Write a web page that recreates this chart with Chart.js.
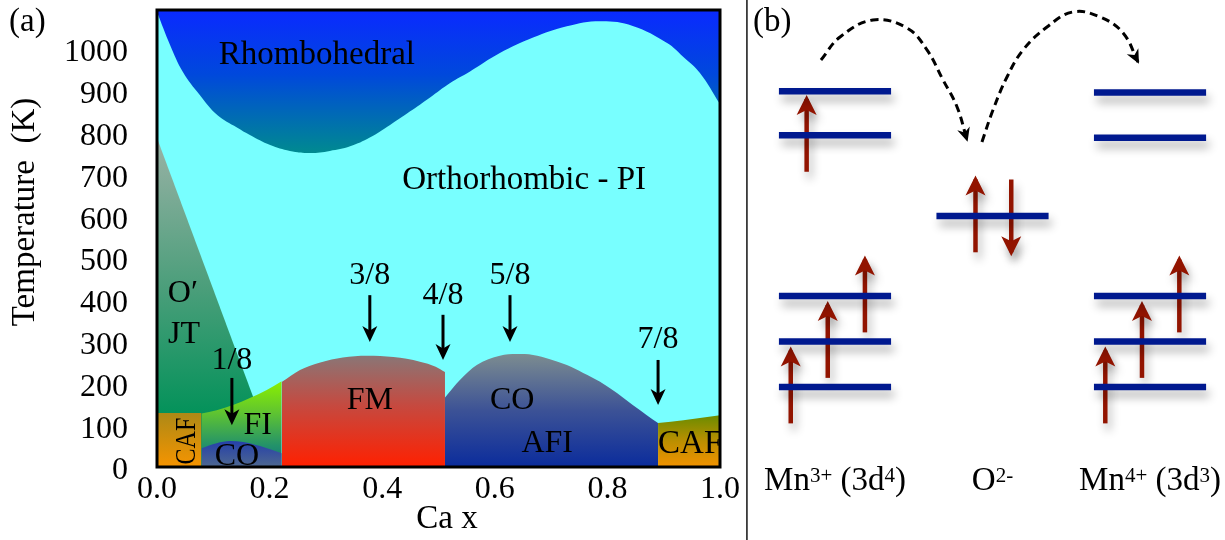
<!DOCTYPE html>
<html>
<head>
<meta charset="utf-8">
<script src="https://cdn.jsdelivr.net/npm/chart.js@4.4.0/dist/chart.umd.min.js"></script>
<style>
  html, body { margin: 0; padding: 0; background: #fff; }
  #wrap { position: relative; width: 1225px; height: 540px; overflow: hidden; background: #fff; }
  #phase { position: absolute; left: 0; top: 0; }
  #levels { position: absolute; left: 746px; top: 0; }
</style>
</head>
<body>
<div id="wrap">
  <canvas id="phase" width="746" height="540"></canvas>
  <canvas id="levels" width="479" height="540"></canvas>
</div>
<script>
const SERIF = "'Liberation Serif', 'Times New Roman', serif";

// ---------- (a) phase diagram: Ca fraction x vs temperature (K) ----------
const caTicks = [0, 0.2, 0.4, 0.6, 0.8, 1.0];
const tempTicks = [0, 100, 200, 300, 400, 500, 600, 700, 800, 900, 1000];

// rhombohedral / orthorhombic boundary
const rhomboX = [0, 0.023, 0.046, 0.076, 0.107, 0.142, 0.165, 0.201, 0.236, 0.272, 0.307, 0.343, 0.378,
                 0.414, 0.449, 0.485, 0.520, 0.556, 0.609, 0.668, 0.728, 0.787, 0.845, 0.906, 0.934, 0.964, 1.0];
const rhomboT = [1088, 1010, 945, 890, 842, 812, 794, 770, 756, 751, 756, 767, 788,
                 818, 850, 884, 918, 946, 990, 1027, 1054, 1066, 1055, 1014, 982, 943, 868];

// O' (Jahn-Teller) boundary
const jtX = [0, 0.171];
const jtT = [787, 167];

// canted AF, low doping side
const cafLeftX = [0, 0.079];
const cafLeftT = [129, 129];

// ferromagnetic insulator
const fiX = [0.079, 0.106, 0.135, 0.165, 0.195, 0.2215];
const fiT = [128, 136, 148, 165, 184, 205];

// charge order inside FI
const coLowX = [0.079, 0.106, 0.13, 0.153, 0.183, 0.2215];
const coLowT = [45, 57, 62, 60, 50, 33];

// ferromagnetic metal
const fmX = [0.2215, 0.254, 0.29, 0.33, 0.373, 0.42, 0.467, 0.495, 0.5115];
const fmT = [203, 232, 250, 262, 266, 263, 252, 240, 227];

// charge ordered antiferromagnetic insulator
const coAfiX = [0.5115, 0.538, 0.568, 0.609, 0.639, 0.668, 0.698, 0.728, 0.757, 0.787, 0.817, 0.845, 0.870, 0.890];
const coAfiT = [166, 208, 244, 266, 270, 268, 258, 244, 225, 204, 177, 148, 124, 105];

// canted AF, high doping side
const cafRightX = [0.89, 0.935, 1.0];
const cafRightT = [105, 112, 124];

// commensurate doping markers
const fracLabels = ['1/8', '3/8', '4/8', '5/8', '7/8'];
const fracX      = [0.133, 0.378, 0.508, 0.627, 0.89];
const fracTail   = [213, 411, 364, 411, 256];
const fracTip    = [100, 299, 256, 299, 148];
const fracTextT  = [261, 464, 416, 464, 311];

const regionLabels = [
  { text: 'Rhombohedral',      x: 0.284, t: 990, size: 33 },
  { text: 'Orthorhombic - PI', x: 0.652, t: 691, size: 33 },
  { text: 'O\u2032',           x: 0.046, t: 419, size: 32 },
  { text: 'JT',                x: 0.048, t: 323, size: 32 },
  { text: 'FI',                x: 0.179, t: 105, size: 32 },
  { text: 'CO',                x: 0.142, t: 31,  size: 32 },
  { text: 'CAF',               x: 0.05,  t: 62,  size: 30, rot: -Math.PI / 2, sx: 0.8 },
  { text: 'FM',                x: 0.378, t: 163, size: 32 },
  { text: 'CO',                x: 0.631, t: 165, size: 32 },
  { text: 'AFI',               x: 0.693, t: 60,  size: 32 },
  { text: 'CAF',               x: 0.89,  t: 60,  size: 33, align: 'left' }
];

const ORTHO_CYAN = '#78ffff';

function pts(xs, ys) { return xs.map((x, i) => ({ x, y: ys[i] })); }

function vGrad(stops, topT, botT) {
  return (c) => {
    const chart = c.chart;
    if (!chart.chartArea) return stops[0][1];
    const y = chart.scales.y;
    const g = chart.ctx.createLinearGradient(0, y.getPixelForValue(topT), 0, y.getPixelForValue(botT));
    stops.forEach(([o, col]) => g.addColorStop(o, col));
    return g;
  };
}

function region(label, xs, ys, fill, order, background, smooth) {
  const ds = {
    label, data: pts(xs, ys), fill, order,
    backgroundColor: background,
    borderColor: 'rgba(0,0,0,0)', borderWidth: 0,
    pointRadius: 0
  };
  if (smooth) ds.tension = 0.4; else ds.cubicInterpolationMode = 'monotone';
  return ds;
}

function downArrow(ctx, x, yTail, yTip) {
  const L = 16, W = 15;
  ctx.lineWidth = 3;
  ctx.beginPath();
  ctx.moveTo(x, yTail);
  ctx.lineTo(x, yTip - L * 0.6);
  ctx.stroke();
  ctx.beginPath();
  ctx.moveTo(x, yTip);
  ctx.lineTo(x - W / 2, yTip - L);
  ctx.lineTo(x, yTip - L * 0.72);
  ctx.lineTo(x + W / 2, yTip - L);
  ctx.closePath();
  ctx.fill();
}

const phaseDecor = {
  id: 'phaseDecor',
  beforeDatasetsDraw(chart) {
    const { ctx, chartArea: a } = chart;
    ctx.save();
    ctx.fillStyle = ORTHO_CYAN;
    ctx.fillRect(a.left, a.top, a.width, a.height);
    ctx.restore();
  },
  afterDatasetsDraw(chart) {
    const { ctx, chartArea: a, scales: { x, y } } = chart;
    ctx.save();
    ctx.beginPath();
    ctx.rect(a.left, a.top, a.width, a.height);
    ctx.clip();
    ctx.fillStyle = '#000';
    ctx.strokeStyle = '#000';
    regionLabels.forEach(l => {
      ctx.save();
      ctx.translate(x.getPixelForValue(l.x), y.getPixelForValue(l.t));
      if (l.rot) ctx.rotate(l.rot);
      if (l.sx) ctx.scale(l.sx, 1);
      ctx.font = l.size + 'px ' + SERIF;
      ctx.textAlign = l.align || 'center';
      ctx.textBaseline = 'alphabetic';
      ctx.fillText(l.text, 0, 0.33 * l.size);
      ctx.restore();
    });
    ctx.font = '32px ' + SERIF;
    ctx.textAlign = 'center';
    fracLabels.forEach((lab, i) => {
      const px = x.getPixelForValue(fracX[i]);
      ctx.fillText(lab, px, y.getPixelForValue(fracTextT[i]) + 11);
      downArrow(ctx, px, y.getPixelForValue(fracTail[i]), y.getPixelForValue(fracTip[i]));
    });
    ctx.restore();

    ctx.save();
    ctx.lineWidth = 3;
    ctx.strokeStyle = '#000';
    ctx.strokeRect(a.left, a.top, a.width, a.height);
    ctx.restore();
  },
  afterDraw(chart) {
    const { ctx } = chart;
    ctx.save();
    ctx.fillStyle = '#000';
    ctx.textBaseline = 'alphabetic';
    ctx.font = '33px ' + SERIF;
    ctx.textAlign = 'left';
    ctx.fillText('(a)', 9, 31);
    ctx.textAlign = 'center';
    ctx.fillText('Ca x', 447, 528);
    ctx.translate(34, 212);
    ctx.rotate(-Math.PI / 2);
    ctx.fillText('Temperature  (K)', 0, 0);
    ctx.restore();
  }
};

new Chart(document.getElementById('phase'), {
  type: 'line',
  data: {
    datasets: [
      region('Rhombohedral', rhomboX, rhomboT, 'end', 5,
        vGrad([[0, '#0a2aff'], [0.45, '#0048dc'], [1, '#008a90']], 1093, 751), true),
      region("O' JT", jtX, jtT, 'origin', 10,
        vGrad([[0, '#9ab2a6'], [0.55, '#4a9e7a'], [1, '#04925a']], 787, 129)),
      region('CAF', cafLeftX, cafLeftT, 'origin', 8,
        vGrad([[0, '#ad8916'], [1, '#f69400']], 129, 0)),
      region('FI', fiX, fiT, 'origin', 9,
        vGrad([[0, '#8af000'], [0.35, '#62c62e'], [0.75, '#23926a'], [1, '#0e6e84']], 205, 0)),
      region('CO', coLowX, coLowT, 'origin', 7,
        vGrad([[0, '#2540aa'], [1, '#4e6890']], 62, 0)),
      region('FM', fmX, fmT, 'origin', 6,
        vGrad([[0, '#8a7676'], [0.45, '#c6493f'], [1, '#ff2000']], 266, 0)),
      region('CO AFI', coAfiX, coAfiT, 'origin', 6,
        vGrad([[0, '#7c8c90'], [0.5, '#3c5296'], [1, '#0b2c9c']], 270, 0)),
      region('CAF', cafRightX, cafRightT, 'origin', 6,
        vGrad([[0, '#6a8c00'], [0.5, '#bb8f00'], [1, '#f29200']], 124, 0))
    ]
  },
  options: {
    responsive: false,
    animation: false,
    events: [],
    layout: { padding: { left: 0, top: 10, right: 26, bottom: 0 } },
    plugins: { legend: { display: false }, tooltip: { enabled: false } },
    scales: {
      x: {
        type: 'linear', min: 0, max: 1,
        grid: { display: false, drawTicks: false },
        border: { display: false },
        afterBuildTicks: s => { s.ticks = caTicks.map(v => ({ value: v })); },
        afterFit: s => { s.height = 73; s.paddingLeft = 0; s.paddingRight = 0; },
        ticks: {
          callback: v => Number(v).toFixed(1),
          font: { family: SERIF, size: 32 }, color: '#000',
          padding: 3, maxRotation: 0, autoSkip: false
        }
      },
      y: {
        type: 'linear', min: 0, max: 1093,
        grid: { display: false, drawTicks: false },
        border: { display: false },
        afterBuildTicks: s => { s.ticks = tempTicks.map(v => ({ value: v })); },
        afterFit: s => { s.width = 157; s.paddingTop = 0; s.paddingBottom = 0; },
        ticks: {
          callback: v => String(v),
          font: { family: SERIF, size: 32 }, color: '#000',
          padding: 29, labelOffset: 4, autoSkip: false
        }
      }
    }
  },
  plugins: [phaseDecor]
});

// ---------- (b) Mn3+ - O2- - Mn4+ level scheme (double exchange) ----------
const sitePos = [0, 1, 2];                       // Mn3+, O2-, Mn4+
const mn3Levels = [0, 1, 2, 5.53, 6.5];          // t2g x3, eg x2
const oLevels = [3.76];                          // O 2p
const mn4Levels = [0, 1, 2, 5.48, 6.47];

const mn3SpinDx = [-0.281, -0.046, 0.19, -0.18];
const mn3SpinLevel = [0, 1, 2, 5.53];
const mn3SpinDir = [1, 1, 1, 1];
const oSpinDx = [-0.108, 0.119];
const oSpinLevel = [3.76, 3.76];
const oSpinDir = [1, -1];
const mn4SpinDx = [-0.284, -0.051, 0.186];
const mn4SpinLevel = [0, 1, 2];
const mn4SpinDir = [1, 1, 1];

// electron hopping paths Mn3+ -> O -> Mn4+
const hop1X = [-0.089, 0.032, 0.241, 0.457, 0.584, 0.686, 0.775, 0.838];
const hop1E = [7.187, 7.692, 8.066, 7.890, 7.407, 6.747, 6.154, 5.429];
const hop2X = [0.933, 1.003, 1.092, 1.194, 1.346, 1.511, 1.683, 1.829, 1.924];
const hop2E = [5.385, 6.088, 6.813, 7.407, 7.912, 8.242, 8.132, 7.780, 7.143];

const LEVEL_HALF = 0.356;
const SPIN_HALF = 0.8;
const LEVEL_BLUE = '#00198f';
const SPIN_RED = '#921400';

const levelSets = [];
[[0, mn3Levels], [1, oLevels], [2, mn4Levels]].forEach(([s, lv]) => {
  lv.forEach(e => levelSets.push({
    data: [{ x: sitePos[s] - LEVEL_HALF, y: e }, { x: sitePos[s] + LEVEL_HALF, y: e }],
    borderColor: LEVEL_BLUE, borderWidth: 6.5, borderCapStyle: 'butt',
    pointRadius: 0, order: 1, shadow: true, tension: 0
  }));
});

const spinSets = [];
[[0, mn3SpinDx, mn3SpinLevel, mn3SpinDir], [1, oSpinDx, oSpinLevel, oSpinDir], [2, mn4SpinDx, mn4SpinLevel, mn4SpinDir]]
  .forEach(([s, dxs, lv, dirs]) => {
    dxs.forEach((dx, i) => spinSets.push({
      data: [{ x: sitePos[s] + dx, y: lv[i] - dirs[i] * SPIN_HALF }, { x: sitePos[s] + dx, y: lv[i] + dirs[i] * SPIN_HALF }],
      borderColor: SPIN_RED, borderWidth: 4.5, borderCapStyle: 'butt',
      pointRadius: 0, order: 2, shadow: true, head: 'spin', tension: 0
    }));
  });

const hopSets = [[hop1X, hop1E], [hop2X, hop2E]].map(([xs, es]) => ({
  data: pts(xs, es),
  borderColor: '#000', borderWidth: 3, borderDash: [8, 5],
  pointRadius: 0, order: 3, tension: 0.4, head: 'hop'
}));

function stealth(ctx, tip, ang, L, W, notch) {
  ctx.save();
  ctx.translate(tip.x, tip.y);
  ctx.rotate(ang);
  ctx.beginPath();
  ctx.moveTo(0, 0);
  ctx.lineTo(-L, -W / 2);
  ctx.lineTo(-L * (1 - notch), 0);
  ctx.lineTo(-L, W / 2);
  ctx.closePath();
  ctx.fill();
  ctx.restore();
}

const levelDecor = {
  id: 'levelDecor',
  beforeDatasetDraw(chart, args) {
    const ds = chart.data.datasets[args.index];
    const ctx = chart.ctx;
    ctx.save();
    if (ds.shadow) {
      ctx.shadowColor = 'rgba(0,0,0,0.30)';
      ctx.shadowBlur = 10;
      ctx.shadowOffsetX = 3;
      ctx.shadowOffsetY = 7;
    }
  },
  afterDatasetDraw(chart, args) {
    const ds = chart.data.datasets[args.index];
    const ctx = chart.ctx;
    const p = args.meta.data;
    if (ds.head && p.length > 1) {
      const a = p[p.length - 2], b = p[p.length - 1];
      const ang = Math.atan2(b.y - a.y, b.x - a.x);
      ctx.fillStyle = ds.borderColor;
      if (ds.head === 'spin') {
        const tip = { x: b.x + 4 * Math.cos(ang), y: b.y + 4 * Math.sin(ang) };
        stealth(ctx, tip, ang, 20, 20, 0.25);
      } else {
        const tip = { x: b.x + 2 * Math.cos(ang), y: b.y + 2 * Math.sin(ang) };
        stealth(ctx, tip, ang, 14, 13, 0.3);
      }
    }
    ctx.restore();
  },
  afterDraw(chart) {
    const { ctx, scales: { x, y } } = chart;
    ctx.save();
    ctx.fillStyle = '#3a3a3a';
    ctx.fillRect(0, 0, 1.8, chart.height);
    ctx.fillStyle = '#000';
    ctx.textBaseline = 'alphabetic';
    ctx.font = '33px ' + SERIF;
    ctx.textAlign = 'left';
    ctx.fillText('(b)', 7, 31);

    const ionLabels = [
      [{ t: 'Mn' }, { t: '3+', sup: true }, { t: ' (3d' }, { t: '4', sup: true }, { t: ')' }],
      [{ t: 'O' }, { t: '2-', sup: true }],
      [{ t: 'Mn' }, { t: '4+', sup: true }, { t: ' (3d' }, { t: '3', sup: true }, { t: ')' }]
    ];
    const base = y.getPixelForValue(-2.26);
    ionLabels.forEach((parts, s) => {
      let w = 0;
      parts.forEach(q => {
        ctx.font = (q.sup ? 21 : 33) + 'px ' + SERIF;
        q.w = ctx.measureText(q.t).width;
        w += q.w;
      });
      let cx = x.getPixelForValue(sitePos[s]) - w / 2;
      parts.forEach(q => {
        ctx.font = (q.sup ? 21 : 33) + 'px ' + SERIF;
        ctx.fillText(q.t, cx, q.sup ? base - 8 : base);
        cx += q.w;
      });
    });
    ctx.restore();
  }
};

new Chart(document.getElementById('levels'), {
  type: 'line',
  data: { datasets: [...levelSets, ...spinSets, ...hopSets] },
  options: {
    responsive: false,
    animation: false,
    events: [],
    layout: { padding: 0 },
    plugins: { legend: { display: false }, tooltip: { enabled: false } },
    scales: {
      x: { type: 'linear', min: -0.565, max: 2.476, display: false },
      y: { type: 'linear', min: -3.363, max: 8.505, display: false }
    }
  },
  plugins: [levelDecor]
});
</script>
</body>
</html>
